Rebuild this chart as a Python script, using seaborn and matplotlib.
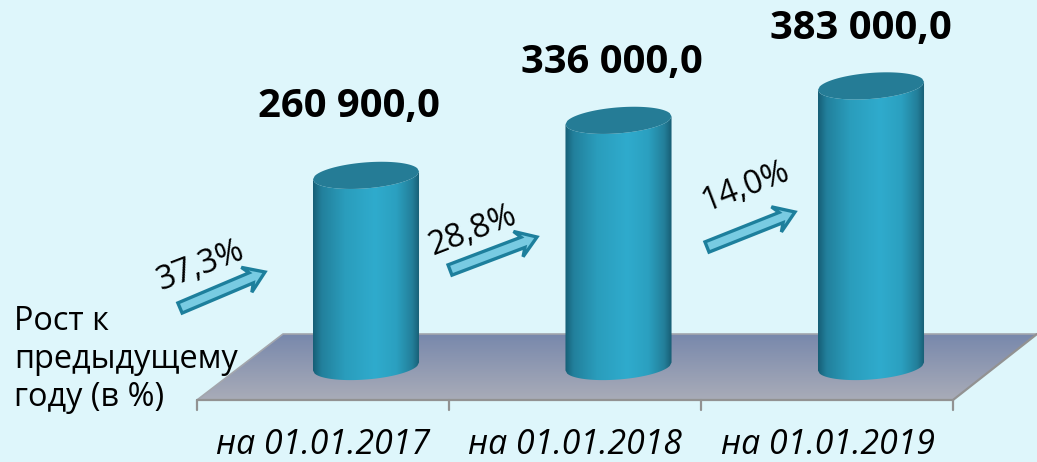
import numpy as np
import pandas as pd
import matplotlib
matplotlib.use("Agg")
import matplotlib.pyplot as plt
import matplotlib.patches as mpatches
from matplotlib.colors import LinearSegmentedColormap
from matplotlib.path import Path
from matplotlib.transforms import Affine2D
import seaborn as sns

# chart data
categories = ["на 01.01.2017", "на 01.01.2018", "на 01.01.2019"]
values = [260900.0, 336000.0, 383000.0]
growth = [37.3, 28.8, 14.0]
side_note = ["Рост к", "предыдущему", "году (в %)"]

BG = "#DEF6FB"
W, H = 1037, 462
STEP = 252.5            # px between categories
X0 = 366.0              # px of first category
BASE = 366.5            # px of zero line
UNIT = 1365.0           # value units per px

sns.set_theme(style="white")
plt.rcParams["font.family"] = ["Open Sans", "DejaVu Sans"]

fig = plt.figure(figsize=(W / 100, H / 100), dpi=100, facecolor=BG)
ax = fig.add_axes([0, 0, 1, 1])
ax.set_facecolor(BG)

# pixel coordinates, origin top left, for the hand placed decorations
px = Affine2D().scale(1, -1).translate(0, H)

xlim = (-X0 / STEP, (W - X0) / STEP)
ylim = (-(H - BASE) * UNIT, BASE * UNIT)


def gradient(extent, colors, positions, clip, vertical=False, z=2):
    cmap = LinearSegmentedColormap.from_list("g", list(zip(positions, colors)))
    t = np.linspace(0, 1, 256)
    img = t[:, None] if vertical else t[None, :]
    im = ax.imshow(img, extent=extent, origin="upper", cmap=cmap, aspect="auto",
                   zorder=z, transform=px, interpolation="bilinear")
    patch = mpatches.PathPatch(clip, transform=px, fc="none", ec="none")
    ax.add_patch(patch)
    im.set_clip_path(patch)


# floor
floor = Path([(197, 400), (953, 400), (1037, 334), (283, 334), (197, 400)], closed=True)
gradient((197, 1037, 400, 334), ["#7888AC", "#A9ACB8"], [0, 1], floor, vertical=True, z=1)
ax.plot([197, 953, 1037], [400, 400, 334], color="#929292", lw=1.6, transform=px, zorder=1.5, solid_joinstyle="miter")
ax.plot([197, 283, 1037], [400, 334, 334], color="#A3A6AD", lw=1.2, transform=px, zorder=1.4)
for tx in [197, 449, 701, 953]:
    ax.plot([tx, tx], [400, 410], color="#929292", lw=1.6, transform=px, zorder=1.5)

# bars
df = pd.DataFrame({"category": categories, "value": values})
sns.barplot(data=df, x="category", y="value", width=0.42, color="#2FA9CB", saturation=1, ax=ax, zorder=2)

body_colors = ["#165E76", "#22809C", "#2A9DBC", "#2FABCD", "#2BA0C0", "#237F9A", "#175C73"]
body_pos = [0, 0.08, 0.3, 0.58, 0.78, 0.93, 1]
bars = [p for p in ax.patches if isinstance(p, mpatches.Rectangle)]
for bar in bars:
    x0, w, v = bar.get_x(), bar.get_width(), bar.get_height()
    bar.set_visible(False)
    left, right = x0 * STEP + X0, (x0 + w) * STEP + X0
    xc, a = (left + right) / 2, (right - left) / 2
    top = BASE - v / UNIT
    t = np.linspace(-1, 1, 60)
    ex = xc + a * t
    slope = -4.0 * t
    arc = 13.0 * np.sqrt(1 - t ** 2)
    # outline: along the bottom of the lower ellipse, back along the top rim
    outline = list(zip(ex, BASE + slope + arc)) + list(zip(ex[::-1], (top + slope + arc)[::-1]))
    gradient((left, right, BASE + 20, top - 20), body_colors, body_pos, Path(outline + [outline[0]], closed=True), z=3)
    cap = list(zip(ex, top + slope + arc)) + list(zip(ex[::-1], (top + slope - arc)[::-1]))
    ax.add_patch(mpatches.Polygon(cap, closed=True, fc="#257C96", ec="none", transform=px, zorder=4))

# labels above the bars
label_pos = [(349, 107), (612, 63), (861, 29)]
for v, (lx, ly) in zip(values, label_pos):
    txt = f"{v:,.1f}".replace(",", " ").replace(".", ",")
    ax.text(lx, ly, txt, transform=px, ha="center", va="center", fontsize=28.8, fontweight="bold", color="black", zorder=6)

# growth arrows
arrow_pos = [(180, 308, 85, -36), (450, 270, 87, -33), (707, 247, 88, -35)]
for ax0, ay0, dx, dy in arrow_pos:
    ax.add_patch(mpatches.FancyArrow(ax0, ay0, dx, dy, width=11, head_width=27, head_length=20, overhang=0.25,
                                     length_includes_head=True, fc="#78CBE2", ec="#1D7F9C", lw=2.4,
                                     transform=px, zorder=5))
growth_pos = [(201, 266), (473, 231), (745, 187)]
for g, (gx, gy) in zip(growth, growth_pos):
    ax.text(gx, gy, f"{g:.1f}%".replace(".", ","), transform=px, ha="center", va="center", fontsize=23.5,
            rotation=21, color="black", zorder=6)

# side note
for line, ly in zip(side_note, [322, 360, 397]):
    ax.text(14, ly, line, transform=px, ha="left", va="center", fontsize=23.4, color="black", zorder=6)

# category labels
ax.set_xlabel("")
ax.set_ylabel("")
ax.set_yticks([])
ax.set_xticks(range(len(categories)))
ax.set_xticklabels(categories, fontsize=24.3, fontstyle="italic", color="black")
ax.tick_params(axis="x", length=0, pad=-24.5, direction="in")
for lab in ax.get_xticklabels():
    lab.set_transform(lab.get_transform() + Affine2D().translate(-43, 0))
sns.despine(ax=ax, left=True, bottom=True)
ax.set_xlim(xlim)
ax.set_ylim(ylim)

fig.savefig("out.png", dpi=100, facecolor=BG)
plt.close(fig)
